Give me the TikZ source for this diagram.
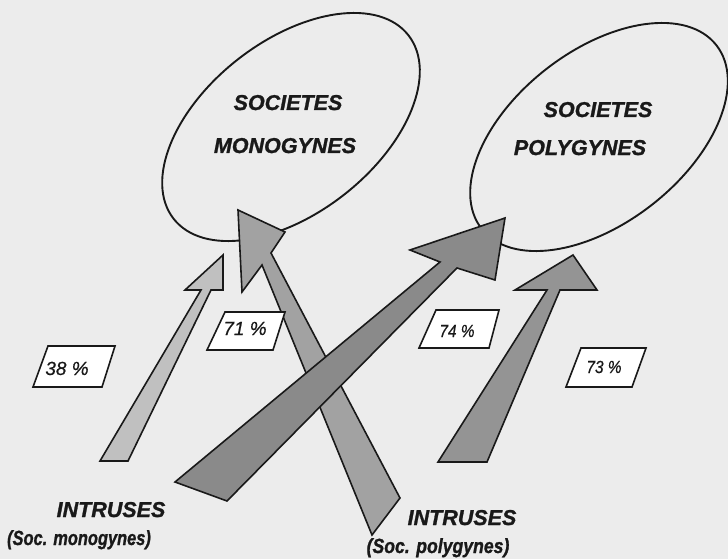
\documentclass[tikz,border=0pt]{standalone}
\usepackage{fontspec}
\setmainfont{Liberation Sans}
\newfontfamily\heavyfont[FakeBold=1.2]{Liberation Sans}
\newfontfamily\pctfont[FakeBold=0.4]{Liberation Sans}
\usetikzlibrary{shapes.geometric}
\definecolor{paper}{RGB}{236,236,236}
\definecolor{ink}{RGB}{25,25,25}
\definecolor{lightarrow}{RGB}{192,192,192}
\definecolor{midarrow}{RGB}{162,162,162}
\definecolor{darkarrow}{RGB}{138,138,138}
\definecolor{darkarrowb}{RGB}{148,148,148}
\begin{document}
\begin{tikzpicture}[x=1pt,y=-1pt,
  socellipse/.style={ellipse, draw=ink, line width=1.9pt, minimum width=298pt,
    minimum height=172pt, inner sep=0pt, rotate=38},
  bigtext/.style={font=\heavyfont\fontsize{21.5}{24}\selectfont\bfseries\itshape, text=ink,
    anchor=base, inner sep=0pt},
  subtext/.style={font=\heavyfont\fontsize{20.5}{24}\selectfont\bfseries\itshape, text=ink,
    anchor=base, inner sep=0pt},
  blockarrow/.style={draw=ink, line width=1.6pt, line join=miter},
  pctbox/.style={draw=ink, fill=white, line width=1.6pt, line join=miter},
  pcta/.style={font=\pctfont\fontsize{19}{20}\selectfont\itshape, text=ink, anchor=base, inner sep=0pt},
  pctb/.style={font=\pctfont\fontsize{17.5}{20}\selectfont\itshape, text=ink, anchor=base, inner sep=0pt}
]
\fill[paper] (0,0) rectangle (728,559);
\useasboundingbox (0,0) rectangle (728,559);

% ellipses
\node[socellipse] (mono) at (291,127) {};
\node[socellipse] (poly) at (599,137) {};

% arrow 38 %
\filldraw[blockarrow, fill=lightarrow]
  (100,461) -- (201,290) -- (185,290) -- (223,255) -- (223,290) -- (211,290) -- (128,461) -- cycle;
% arrow 71 %
\filldraw[blockarrow, fill=midarrow]
  (372,535) -- (262,265) -- (242,292) -- (238,210) -- (285,232) -- (271,253) -- (400,498) -- cycle;
% arrow 73 %
\filldraw[blockarrow, fill=darkarrowb]
  (438,462) -- (547,290) -- (515,290) -- (573,255) -- (597,290) -- (560,290) -- (487,462) -- cycle;
% arrow 74 %
\filldraw[blockarrow, fill=darkarrow]
  (175,482) -- (440,262) -- (410,250) -- (505,218) -- (495,280) -- (457,268) -- (227,501) -- cycle;

% percentage boxes
\filldraw[pctbox] (48,346) -- (115,346) -- (102,387) -- (33,387) -- cycle;
\filldraw[pctbox] (225,312) -- (285,312) -- (273,350) -- (207,350) -- cycle;
\filldraw[pctbox] (436,310) -- (499,310) -- (489,348) -- (419,348) -- cycle;
\filldraw[pctbox] (581,348) -- (646,348) -- (632,387) -- (566,387) -- cycle;
\node[pcta] (p38) at (67,375) {38 \%};
\node[pcta] (p71) at (245,335) {71 \%};
\node[pctb] (p74) at (457,337) {\scalebox{0.88}[1]{74 \%}};
\node[pctb] (p73) at (604,373) {\scalebox{0.88}[1]{73 \%}};

% labels in ellipses
\node[bigtext] (m1) at (288,110) {SOCIETES};
\node[bigtext] (m2) at (285,153) {MONOGYNES};
\node[bigtext] (q1) at (598,117) {SOCIETES};
\node[bigtext] (q2) at (580,155) {POLYGYNES};

% bottom labels
\node[bigtext] (i1) at (111,517) {INTRUSES};
\node[subtext] (i1b) at (79,545) {\scalebox{0.8}[1]{(Soc. monogynes)}};
\node[bigtext] (i2) at (462,525) {INTRUSES};
\node[subtext] (i2b) at (438,553) {\scalebox{0.86}[1]{(Soc. polygynes)}};
\end{tikzpicture}
\end{document}
